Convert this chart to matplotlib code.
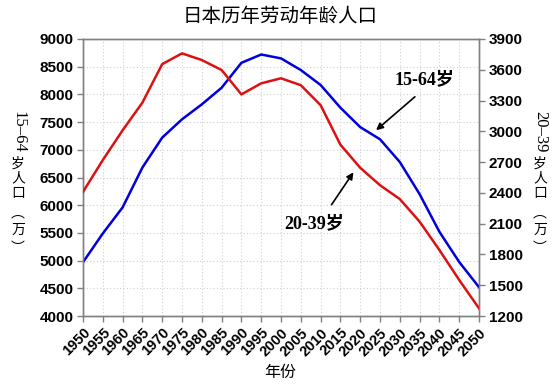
import matplotlib
matplotlib.use("Agg")
import matplotlib.pyplot as plt

years = list(range(1950, 2051, 5))
pop_15_64 = [4970, 5490, 5960, 6680, 7220, 7550, 7820, 8120, 8570, 8720, 8650, 8440,
             8170, 7760, 7410, 7190, 6780, 6200, 5520, 4975, 4520]
pop_20_39 = [2410, 2720, 3010, 3280, 3655, 3760, 3695, 3598, 3360, 3468, 3517, 3450,
             3255, 2870, 2645, 2475, 2340, 2120, 1843, 1551, 1275]
left_ticks = list(range(4000, 9001, 500))
right_ticks = list(range(1200, 3901, 300))

CJK = ['Noto Sans CJK SC', 'DejaVu Sans']
TICKF = ['Liberation Sans', 'DejaVu Sans']
SERIF = ['Liberation Serif', 'Noto Sans CJK SC']

fig = plt.figure(figsize=(5.6, 3.87), dpi=100)
ax = fig.add_axes([83/560, 1-316/387, 396/560, 277/387])
ax2 = ax.twinx()

ax.plot(years, pop_15_64, color='#0000dd', lw=1.8, zorder=3)
ax2.plot(years, pop_20_39, color='#dd1111', lw=1.8, zorder=3)

ax.set_xlim(1950, 2050)
ax.set_ylim(4000, 9000)
ax2.set_ylim(1200, 3900)
ax.set_xticks(years)
ax.set_yticks(left_ticks)
ax2.set_yticks(right_ticks)
ax.grid(True, color='#cfcfcf', linestyle=(0, (1, 2)), lw=0.8)
ax.set_axisbelow(True)

for a in (ax, ax2):
    for s in a.spines.values():
        s.set_color('#808080')
        s.set_linewidth(1.0)
    a.tick_params(direction='out', length=4, color='#808080', width=1.0)

ax.set_xticklabels([str(y) for y in years], rotation=45, ha='right', va='top',
                   rotation_mode='anchor', fontweight='bold', fontsize=10.5, family=TICKF)
ax.tick_params(axis='x', pad=3)
for lbl in ax.get_yticklabels():
    lbl.set_fontweight('bold'); lbl.set_fontsize(11); lbl.set_family(TICKF)
for lbl in ax2.get_yticklabels():
    lbl.set_fontweight('bold'); lbl.set_fontsize(11); lbl.set_family(TICKF)
ax.tick_params(axis='y', pad=3)
ax2.tick_params(axis='y', pad=3)

fig.text(280/560, 1-16/387, '日本历年劳动年龄人口', ha='center', va='center',
         fontsize=14, family=CJK)
fig.text(280/560, 1-372/387, '年份', ha='center', va='center', fontsize=11.5, family=CJK)

def vlabel(x, first):
    fig.text(x/560, 1-132/387, first, rotation=-90, ha='center', va='center',
             fontsize=12, family=SERIF)
    for ch, y in [('岁', 164), ('人', 178), ('口', 193), ('︵', 213), ('万', 230), ('︶', 248)]:
        fig.text(x/560, 1-y/387, ch, ha='center', va='center', fontsize=10, family=CJK)

vlabel(18, '15–64')
vlabel(540, '20–39')

ax.annotate('', xy=(374/560, 1-132/387), xytext=(417/560, 1-95/387),
            xycoords='figure fraction', textcoords='figure fraction',
            arrowprops=dict(arrowstyle='-|>', color='black', lw=1.2, mutation_scale=10))
ax.annotate('', xy=(355/560, 1-170/387), xytext=(330/560, 1-207/387),
            xycoords='figure fraction', textcoords='figure fraction',
            arrowprops=dict(arrowstyle='-|>', color='black', lw=1.2, mutation_scale=10))
fig.text(424/560, 1-80/387, '15-64岁', ha='center', va='center', fontsize=13,
         family=SERIF, fontweight='bold')
fig.text(314/560, 1-224/387, '20-39岁', ha='center', va='center', fontsize=13,
         family=SERIF, fontweight='bold')

fig.savefig('out.png', dpi=100)
